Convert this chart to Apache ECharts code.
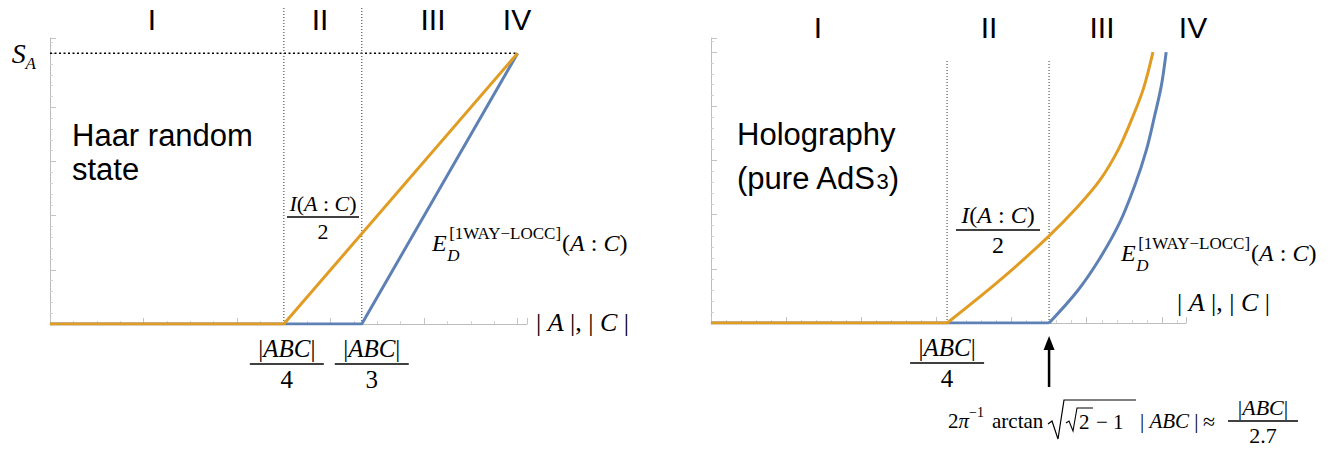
<!DOCTYPE html>
<html>
<head>
<meta charset="utf-8">
<title>Haar random state vs holography</title>
<script src="https://cdn.jsdelivr.net/npm/echarts@6.0.0/dist/echarts.min.js"></script>
<style>
  html, body { margin: 0; padding: 0; background: #fff; }
  #chart { width: 1335px; height: 452px; }
</style>
</head>
<body>
<div id="chart"></div>
<script>
  // x = |A| = |C| as a fraction of |ABC|, y in the same units (S_A reaches 1/2)
  var haarX = [0, 0.25, 0.5];
  var haarHalfI = [0, 0, 0.5];
  var haarEdX = [0, 1 / 3, 0.5];
  var haarEd = [0, 0, 0.5];
  var haarCuts = [0.25, 1 / 3];
  var haarSA = 0.5;

  // holography
  var holoX = [0, 0.25, 0.306, 0.357, 0.388, 0.412, 0.431, 0.446, 0.458, 0.468];
  var holoHalfI = [0, 0, 0.079, 0.159, 0.214, 0.264, 0.319, 0.378, 0.433, 0.5];
  var holoEdX = [0, 0.358, 0.388, 0.412, 0.433, 0.449, 0.461, 0.470, 0.477, 0.482];
  var holoEd = [0, 0, 0.059, 0.120, 0.186, 0.255, 0.319, 0.384, 0.439, 0.5];
  var holoCuts = [0.25, 0.358];
  var holoGuideTop = 0.485;

  var regions = ['I', 'II', 'III', 'IV'];

  var BLUE = '#5e81b5', ORANGE = '#e19c24';
  var SERIF = '"Liberation Serif", "DejaVu Serif", serif';
  var SANS = '"Liberation Sans", Arial, sans-serif';

  function pts(xs, ys) {
    return xs.map(function (x, i) { return [x, ys[i]]; });
  }

  function xAx(grid, max, interval, minor, hidden) {
    return {
      type: 'value', gridIndex: grid, min: 0, max: max, interval: interval, show: !hidden,
      axisLine: { show: true, onZero: false, lineStyle: { color: '#bdbdbd', width: 1 } },
      axisTick: { show: true, inside: true, length: 6, lineStyle: { color: '#c4c4c4' } },
      minorTick: { show: true, splitNumber: minor, length: 3, lineStyle: { color: '#d4d4d4' } },
      axisLabel: { show: false }, splitLine: { show: false }
    };
  }
  function yAx(grid, max, hidden, label) {
    return {
      type: 'value', gridIndex: grid, min: 0, max: max, interval: 0.1, show: !hidden,
      axisLine: { show: true, onZero: false, lineStyle: { color: '#bdbdbd', width: 1 } },
      axisTick: { show: true, inside: true, length: 6, lineStyle: { color: '#c4c4c4' } },
      minorTick: { show: true, splitNumber: 5, length: 3, lineStyle: { color: '#d4d4d4' } },
      axisLabel: label || { show: false }, splitLine: { show: false }
    };
  }

  function line(x, y, data, color, z, smooth) {
    return {
      type: 'line', xAxisIndex: x, yAxisIndex: y, data: data, symbol: 'none',
      smooth: smooth || false, z: z, silent: true,
      lineStyle: { color: color, width: 3 }
    };
  }
  function guide(x, y, data, color, width, dash) {
    return {
      type: 'line', xAxisIndex: x, yAxisIndex: y, data: data, symbol: 'none', z: 1, silent: true,
      lineStyle: { color: color, width: width, type: dash }
    };
  }

  var holoI = pts(holoX, holoHalfI), holoE = pts(holoEdX, holoEd);

  var chart = echarts.init(document.getElementById('chart'), null, { renderer: 'svg' });
  chart.setOption({
    animation: false,
    grid: [
      { left: 50, top: 38, width: 477, height: 286 },
      { left: 711, top: 38, width: 475, height: 285 },
      { left: 50, top: 7, width: 477, height: 317 }
    ],
    xAxis: [
      xAx(0, 0.51, 0.1, 4),
      xAx(1, 0.503, 1 / (4 * Math.PI), 5),
      xAx(2, 0.51, 0.1, 4, true)
    ],
    yAxis: [
      yAx(0, 0.528, false, {
        show: true, margin: 14,
        formatter: function (v) { return Math.abs(v - haarSA) < 1e-6 ? '{s|S}{a|A}' : ''; },
        rich: {
          s: { fontFamily: SERIF, fontStyle: 'italic', fontSize: 28, color: '#000', lineHeight: 30 },
          a: { fontFamily: SERIF, fontStyle: 'italic', fontSize: 17, color: '#000', lineHeight: 17, verticalAlign: 'bottom', padding: [0, 0, -4, 0] }
        }
      }),
      yAx(1, 0.526),
      yAx(2, 1, true)
    ],
    series: [
      // guides
      guide(0, 0, [[0, haarSA], [0.5, haarSA]], '#000', 1.5, [2, 2.5]),
      guide(2, 2, [[haarCuts[0], 0], [haarCuts[0], 1]], '#555', 1.2, [1, 2]),
      guide(2, 2, [[haarCuts[1], 0], [haarCuts[1], 1]], '#555', 1.2, [1, 2]),
      guide(1, 1, [[holoCuts[0], 0], [holoCuts[0], holoGuideTop]], '#555', 1.2, [1, 2]),
      guide(1, 1, [[holoCuts[1], 0], [holoCuts[1], holoGuideTop]], '#555', 1.2, [1, 2]),
      // Haar
      line(0, 0, pts(haarEdX, haarEd), BLUE, 3),
      line(0, 0, pts(haarX, haarHalfI), ORANGE, 4),
      // holography: flat part then curved part
      line(1, 1, holoE.slice(0, 2), BLUE, 3),
      line(1, 1, holoE.slice(1), BLUE, 3, 0.35),
      line(1, 1, holoI.slice(0, 2), ORANGE, 4),
      line(1, 1, holoI.slice(1), ORANGE, 4, 0.35)
    ]
  });

  // ---------- annotations ----------
  var measure = document.createElement('canvas').getContext('2d');
  function textWidth(s, size, italic) {
    measure.font = (italic ? 'italic ' : '') + size + 'px ' + SERIF;
    return measure.measureText(s).width;
  }
  function rich(size) {
    return {
      i: { fontFamily: SERIF, fontStyle: 'italic', fontSize: size, fill: '#000' },
      u: { fontFamily: SERIF, fontSize: size, fill: '#000' }
    };
  }
  function txt(x, y, text, size, opts) {
    opts = opts || {};
    return {
      type: 'text', x: x, y: y, silent: true,
      style: {
        text: text, rich: rich(size), fontFamily: opts.font || SERIF, fontSize: size,
        fontStyle: opts.italic ? 'italic' : 'normal', fill: '#000',
        align: opts.align || 'left', verticalAlign: opts.va || 'middle'
      }
    };
  }
  function bar(x1, x2, y, w) {
    return { type: 'line', silent: true, shape: { x1: x1, y1: y, x2: x2, y2: y }, style: { stroke: '#000', lineWidth: w || 1.3 } };
  }
  function frac(cx, by, num, den, w, size) {
    return [
      txt(cx, by - 3, num, size, { align: 'center', va: 'bottom' }),
      bar(cx - w / 2, cx + w / 2, by),
      txt(cx, by + 3, den, size, { align: 'center', va: 'top' })
    ];
  }
  var ABC = '{u||}{i|ABC}{u||}';
  var IAC = '{i|I}{u|(}{i|A}{u| : }{i|C}{u|)}';
  var AC = '{u|(}{i|A}{u| : }{i|C}{u|)}';
  var ALLC = '{u|| }{i|A}{u| |, | }{i|C}{u| |}';
  var SUP = '[1WAY\u2212LOCC]';

  function ed(x, y, s) {
    var ss = 17;
    var subX = x + textWidth('E', s, true) + 0.5;
    var supX = subX + 2;
    return [
      txt(x, y, 'E', s, { italic: true }),
      txt(subX, y + 12, 'D', ss, { italic: true }),
      txt(supX, y - 10, SUP, ss),
      txt(supX + textWidth(SUP, ss) + 1, y, AC, s)
    ];
  }

  var px = function (g, x, y) { return chart.convertToPixel({ gridIndex: g }, [x, y]); };
  var el = [];

  // region labels
  [152, 320, 433, 517].forEach(function (x, i) { el.push(txt(x, 19, regions[i], 30, { font: SANS, align: 'center' })); });
  [818, 989, 1102, 1193].forEach(function (x, i) { el.push(txt(x, 27, regions[i], 30, { font: SANS, align: 'center' })); });

  // panel titles
  el.push({ type: 'text', x: 72, y: 118, silent: true,
    style: { text: 'Haar random\nstate', fontFamily: SANS, fontSize: 31, lineHeight: 34, fill: '#000' } });
  el.push({ type: 'text', x: 737, y: 112, silent: true,
    style: { text: '{n|Holography}\n{n|(pure AdS}{s|3}{n|)}', fill: '#000',
      rich: { n: { fontFamily: SANS, fontSize: 31, lineHeight: 44 },
              s: { fontFamily: SANS, fontSize: 22, lineHeight: 44, padding: [6, 0, 0, 0] } } } });

  // curve labels
  el = el.concat(frac(323, 217, IAC, '2', 72, 22));
  el = el.concat(frac(998, 230, IAC, '2', 84, 24));
  el = el.concat(ed(432, 243, 24));
  el = el.concat(ed(1121, 253, 24));
  el.push(txt(536, 322, ALLC, 26));
  el.push(txt(1177, 302, ALLC, 26));

  // cut labels under the axes
  var c0 = px(0, haarCuts[0], 0), c1 = px(0, haarCuts[1], 0), c2 = px(1, holoCuts[0], 0), c3 = px(1, holoCuts[1], 0);
  el = el.concat(frac(c0[0] + 3, 364, ABC, '4', 74, 25));
  el = el.concat(frac(c1[0] + 10, 364, ABC, '3', 74, 25));
  el = el.concat(frac(c2[0], 363, ABC, '4', 74, 25));

  // arrow to the E_D onset
  var ax = c3[0];
  el.push({ type: 'line', silent: true, shape: { x1: ax, y1: 348, x2: ax, y2: 387 }, style: { stroke: '#000', lineWidth: 2.5 } });
  el.push({ type: 'polygon', silent: true, shape: { points: [[ax, 336], [ax - 5.5, 350], [ax + 5.5, 350]] }, style: { fill: '#000' } });

  // 2π^-1 arctan sqrt(sqrt2 - 1) |ABC| ≈ |ABC| / 2.7
  var fy = 421;
  el.push(txt(948, fy, '{u|2}{i|π}', 21));
  el.push(txt(969, fy - 9, '\u22121', 14));
  el.push(txt(992, fy, 'arctan', 21));
  el.push({ type: 'polyline', silent: true, shape: { points: [[1048, 424], [1052, 421], [1058, 439], [1064, 400], [1136, 400]] }, style: { stroke: '#000', fill: null, lineWidth: 1.2 } });
  el.push({ type: 'polyline', silent: true, shape: { points: [[1066, 423], [1069, 421], [1073, 431], [1077, 408], [1093, 408]] }, style: { stroke: '#000', fill: null, lineWidth: 1.1 } });
  el.push(txt(1079, fy + 1, '2', 21));
  el.push(txt(1096, fy + 1, '\u2212 1', 21));
  el.push(txt(1140, fy, '{u|| }{i|ABC}{u| |}', 21));
  el.push(txt(1203, fy, '\u2248', 22));
  el = el.concat(frac(1263, fy, ABC, '2.7', 70, 22));

  chart.setOption({ graphic: { elements: el } });
</script>
</body>
</html>
